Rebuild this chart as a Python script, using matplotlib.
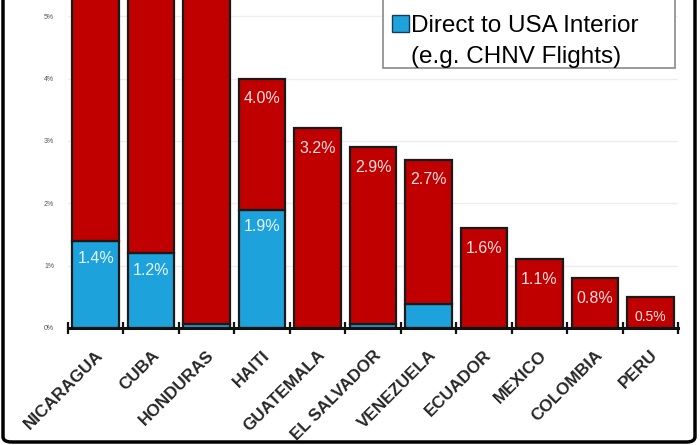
import matplotlib
matplotlib.use("Agg")
import matplotlib.pyplot as plt
from matplotlib.patches import Patch, FancyBboxPatch, Rectangle
import matplotlib.transforms as mtransforms
import numpy as np

plt.rcParams['font.family'] = ['Liberation Sans', 'DejaVu Sans']

countries = ["NICARAGUA", "CUBA", "HONDURAS", "HAITI", "GUATEMALA", "EL SALVADOR",
             "VENEZUELA", "ECUADOR", "MEXICO", "COLOMBIA", "PERU"]
total = [8.9, 7.2, 6.2, 4.0, 3.2, 2.9, 2.7, 1.6, 1.1, 0.8, 0.5]
direct = [1.4, 1.2, 0.07, 1.9, 0.0, 0.07, 0.38, 0.0, 0.0, 0.0, 0.0]
total_labels = ["", "", "", "4.0%", "3.2%", "2.9%", "2.7%", "1.6%", "1.1%", "0.8%", "0.5%"]
direct_labels = ["1.4%", "1.2%", "", "1.9%", "", "", "", "", "", "", ""]
yticks = [0, 1, 2, 3, 4, 5]
ytick_labels = ["0%", "1%", "2%", "3%", "4%", "5%"]

RED = "#c00000"
BLUE = "#1ea2dc"
EDGE = "#1a1a1a"

fig = plt.figure(figsize=(7.0, 4.45), dpi=100)
ax = fig.add_axes([68/700, 1-328/445, (678-68)/700, 328/445])

x = np.arange(len(countries))
w = 0.84
rest = [t - d for t, d in zip(total, direct)]
ax.bar(x, direct, width=w, color=BLUE, edgecolor=EDGE, linewidth=1.6, zorder=3)
ax.bar(x, rest, width=w, bottom=direct, color=RED, edgecolor=EDGE, linewidth=1.6, zorder=3)

for i in range(len(countries)):
    if total_labels[i]:
        fs = 10 if total[i] < 0.6 else 11.5
        ax.annotate(total_labels[i], (x[i], total[i]), xytext=(0, -14.5), textcoords='offset points',
                    ha='center', va='center', color='#ffe0e0', fontsize=fs, zorder=5)
    if direct_labels[i]:
        ax.annotate(direct_labels[i], (x[i], direct[i]), xytext=(0, -12.5), textcoords='offset points',
                    ha='center', va='center', color='#e8f6ff', fontsize=11.5, zorder=5)

ax.set_xlim(-0.5, len(countries) - 0.5)
ax.set_ylim(0, 5.26)
ax.set_yticks(yticks)
ax.set_yticklabels(ytick_labels, fontsize=5, color='#555555')
ax.tick_params(axis='y', length=0, pad=10)
ax.yaxis.grid(True, color='#ededed', linewidth=1.0, zorder=0)
ax.set_axisbelow(True)

ax.set_xticks(x)
ax.set_xticklabels(countries, rotation=45, ha='right', va='top', rotation_mode='anchor',
                   fontsize=12.3, fontweight='bold', color='#262626')
shift = mtransforms.ScaledTranslation(-8/100, 2/100, fig.dpi_scale_trans)
for lab in ax.get_xticklabels():
    lab.set_transform(lab.get_transform() + shift)
ax.set_xticks(np.arange(-0.5, len(countries)), minor=True)
ax.tick_params(axis='x', which='major', length=0, pad=14)
ax.tick_params(axis='x', which='minor', length=9, width=1.6, direction='inout', color='#111111')

for s in ['top', 'right', 'left']:
    ax.spines[s].set_visible(False)
ax.spines['bottom'].set_linewidth(2.2)
ax.spines['bottom'].set_color('#111111')
ax.spines['bottom'].set_zorder(4)

# legend (top part of the box is outside the crop)
frame = Rectangle((383/700, 1-68/445), 292/700, 0.3, transform=fig.transFigure,
                  facecolor='white', edgecolor='#8a8a8a', linewidth=1.2, zorder=9)
fig.patches.append(frame)
handles = [Patch(facecolor=BLUE, edgecolor='#1a3a5a', linewidth=1.0),
           Patch(facecolor='none', edgecolor='none')]
labels = ["Direct to USA Interior", "(e.g. CHNV Flights)"]
leg = fig.legend(handles, labels, loc='upper left',
                 bbox_to_anchor=(392/700, 1-15/445), bbox_transform=fig.transFigure,
                 borderaxespad=0, borderpad=0, fontsize=17.5, frameon=False,
                 handlelength=0.68, handleheight=0.68,
                 handletextpad=0.12, labelspacing=0.35)
leg.set_zorder(10)

border = FancyBboxPatch((3/700, 3/445), 692/700, 1.2, boxstyle='round,pad=0,rounding_size=0.012',
                        transform=fig.transFigure, facecolor='none', edgecolor='#000000',
                        linewidth=2.5, clip_on=False)
fig.patches.append(border)

fig.savefig("out.png", dpi=100)
